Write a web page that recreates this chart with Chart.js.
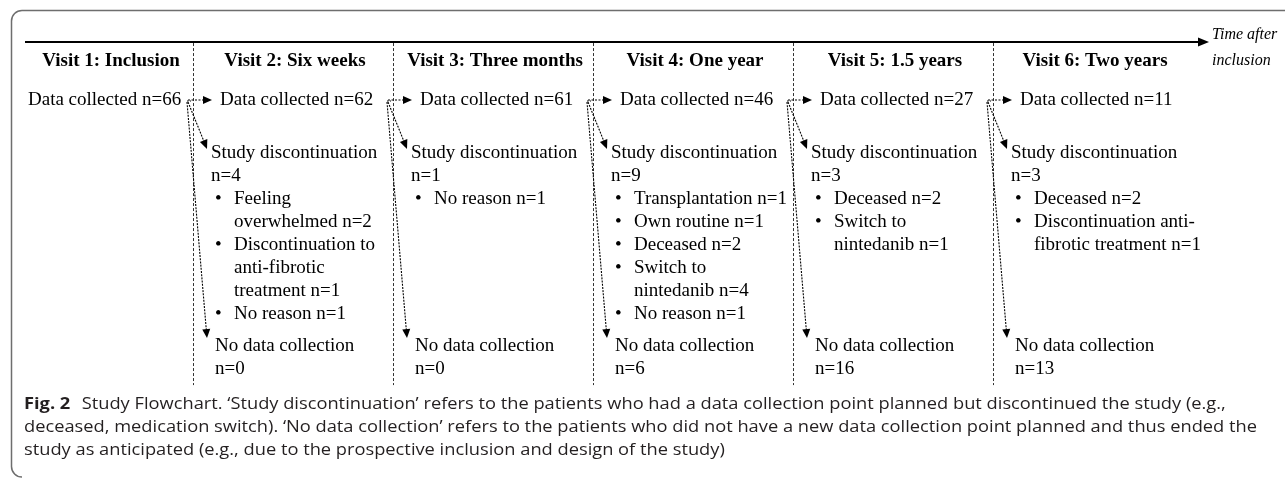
<!DOCTYPE html>
<html><head><meta charset="utf-8">
<script src="https://cdn.jsdelivr.net/npm/chart.js@4/dist/chart.umd.min.js"></script>
<style>html,body{margin:0;padding:0;background:#fff;overflow:hidden}#wrap{position:relative;width:1285px;height:478px}canvas{display:block}</style>
</head><body><div id="wrap"><canvas id="c" width="1285" height="478"></canvas></div>
<script>
// ---- data ----
const visits = ['Visit 1: Inclusion','Visit 2: Six weeks','Visit 3: Three months','Visit 4: One year','Visit 5: 1.5 years','Visit 6: Two years'];
const collected = [66, 62, 61, 46, 27, 11];
const discontinued = [null, 4, 1, 9, 3, 3];
const noCollection = [null, 0, 0, 6, 16, 13];
const reasonLabels = [
  [],
  ['Feeling\noverwhelmed', 'Discontinuation to\nanti-fibrotic\ntreatment', 'No reason'],
  ['No reason'],
  ['Transplantation', 'Own routine', 'Deceased', 'Switch to\nnintedanib', 'No reason'],
  ['Deceased', 'Switch to\nnintedanib'],
  ['Deceased', 'Discontinuation anti-\nfibrotic treatment']
];
const reasonCounts = [[], [2, 1, 1], [1], [1, 1, 2, 4, 1], [2, 1], [2, 1]];
const axisTitle = ['Time after', 'inclusion'];
const captionBold = 'Fig. 2';
const captionLines = [
  'Study Flowchart. \u2018Study discontinuation\u2019 refers to the patients who had a data collection point planned but discontinued the study (e.g.,',
  'deceased, medication switch). \u2018No data collection\u2019 refers to the patients who did not have a new data collection point planned and thus ended the',
  'study as anticipated (e.g., due to the prospective inclusion and design of the study)'
];

// row positions (in line units of the y scale)
const ROW = {axis:-2.52, title1:-2.83, title2:-1.72, head:-1.7, data:0, disc:2.3, no:10.7, sepEnd:12.4, cap:13.26};
const SERIF = '"Liberation Serif","Times New Roman",serif';
const SANS = '"Open Sans","Noto Sans",sans-serif';

function head(ctx, x1, y1, x2, y2, len, half) {
  const a = Math.atan2(y2 - y1, x2 - x1), c = Math.cos(a), s = Math.sin(a);
  ctx.beginPath();
  ctx.moveTo(x2, y2);
  ctx.lineTo(x2 - len * c + half * s, y2 - len * s - half * c);
  ctx.lineTo(x2 - len * c - half * s, y2 - len * s + half * c);
  ctx.closePath();
  ctx.fill();
}
function arrow(ctx, x1, y1, x2, y2, dash) {
  const a = Math.atan2(y2 - y1, x2 - x1);
  ctx.save();
  ctx.setLineDash(dash);
  ctx.lineWidth = 1.1;
  ctx.beginPath();
  ctx.moveTo(x1, y1);
  ctx.lineTo(x2 - 6 * Math.cos(a), y2 - 6 * Math.sin(a));
  ctx.stroke();
  ctx.restore();
  head(ctx, x1, y1, x2, y2, 9, 4);
}

const flowPlugin = {
  id: 'flow',
  afterDatasetsDraw(chart) {
    const ctx = chart.ctx, xs = chart.scales.x, ys = chart.scales.y, area = chart.chartArea;
    const X = v => xs.getPixelForValue(v), Y = v => ys.getPixelForValue(v);
    const bound = i => Math.max(X(i - 0.5), area.left);
    const dataX = i => i === 0 ? area.left + 3 : X(i - 0.5) + 27;
    const discX = i => X(i - 0.5) + 18;
    const noX = i => X(i - 0.5) + 22;
    ctx.save();
    ctx.fillStyle = '#000'; ctx.strokeStyle = '#000';

    // frame
    ctx.save();
    ctx.strokeStyle = '#6e6e6e'; ctx.lineWidth = 1.5;
    ctx.beginPath();
    ctx.moveTo(chart.width + 2, 10.5);
    ctx.lineTo(22, 10.5);
    ctx.arcTo(11.5, 10.5, 11.5, 21, 10.5);
    ctx.lineTo(11.5, 466);
    ctx.arcTo(11.5, 477, 22, 477, 10.5);
    ctx.stroke();
    ctx.restore();

    // time axis
    const ay = Y(ROW.axis);
    ctx.lineWidth = 2;
    ctx.beginPath(); ctx.moveTo(area.left, ay); ctx.lineTo(area.right - 6, ay); ctx.stroke();
    head(ctx, area.left, ay, area.right + 2, ay, 11, 4.5);
    ctx.font = 'italic 16px ' + SERIF; ctx.textBaseline = 'middle'; ctx.textAlign = 'left';
    ctx.fillText(axisTitle[0], area.right + 5, Y(ROW.title1));
    ctx.fillText(axisTitle[1], area.right + 5, Y(ROW.title2));

    // separators
    ctx.save();
    ctx.strokeStyle = '#333'; ctx.lineWidth = 1; ctx.setLineDash([3, 2]);
    for (let i = 0; i < visits.length - 1; i++) {
      const sx = Math.round(X(i + 0.5)) + 0.5;
      ctx.beginPath(); ctx.moveTo(sx, ay + 1); ctx.lineTo(sx, Y(ROW.sepEnd)); ctx.stroke();
    }
    ctx.restore();

    // headings
    ctx.font = 'bold 19px ' + SERIF; ctx.textAlign = 'center';
    visits.forEach((v, i) => {
      const cx = (bound(i) + X(i + 0.5)) / 2 + 2;
      ctx.fillText(v, cx, Y(ROW.head));
    });

    // texts
    ctx.font = '19px ' + SERIF; ctx.textAlign = 'left';
    const dMeta = chart.getDatasetMeta(0);
    collected.forEach((n, i) => {
      const py = dMeta.data[i].y;
      ctx.fillText('Data collected n=' + n, dataX(i), py);
    });
    const sMeta = chart.getDatasetMeta(1);
    discontinued.forEach((n, i) => {
      if (n === null) return;
      const py = sMeta.data[i].y, x = discX(i);
      ctx.fillText('Study discontinuation', x, py);
      ctx.fillText('n=' + n, x, py + (Y(1) - Y(0)));
      let line = 2;
      reasonLabels[i].forEach((lab, k) => {
        const parts = (lab + ' n=' + reasonCounts[i][k]).split('\n');
        ctx.fillText('\u2022', x + 4, Y(ROW.disc + line));
        parts.forEach(p => { ctx.fillText(p, x + 23, Y(ROW.disc + line)); line++; });
      });
    });
    const nMeta = chart.getDatasetMeta(2);
    noCollection.forEach((n, i) => {
      if (n === null) return;
      const py = nMeta.data[i].y, x = noX(i);
      ctx.fillText('No data collection', x, py);
      ctx.fillText('n=' + n, x, py + (Y(1) - Y(0)));
    });

    // flow arrows
    for (let i = 0; i < visits.length - 1; i++) {
      const ox = X(i + 0.5) - 5, oy = Y(ROW.data);
      arrow(ctx, ox, oy, dataX(i + 1) - 8, oy, [2, 1.5]);
      ctx.save(); ctx.setLineDash([1.5,1.5]); ctx.lineWidth=1;
      ctx.beginPath(); ctx.moveTo(ox - 1, oy + 1); ctx.lineTo(ox + 3, oy + 1); ctx.stroke(); ctx.restore();
      arrow(ctx, ox, oy + 2, discX(i + 1) - 4, Y(ROW.disc) - 4, [2, 1.2]);
      arrow(ctx, ox - 1, oy + 2, noX(i + 1) - 8, Y(ROW.no) - 8, [2, 1.2]);
    }

    // caption
    ctx.fillStyle = '#231f20';
    ctx.font = '16px ' + SANS;
    const s = 1233 / ctx.measureText(captionLines[1]).width;
    ctx.save();
    ctx.translate(24, 0); ctx.scale(s, 1);
    ctx.font = 'bold 16px ' + SANS;
    ctx.fillText(captionBold, 0, Y(ROW.cap));
    const bw = ctx.measureText(captionBold).width;
    ctx.font = '16px ' + SANS;
    ctx.fillText(captionLines[0], bw + 10, Y(ROW.cap));
    ctx.fillText(captionLines[1], 0, Y(ROW.cap + 1));
    ctx.fillText(captionLines[2], 0, Y(ROW.cap + 2));
    ctx.restore();
    ctx.restore();
  }
};

new Chart(document.getElementById('c'), {
  type: 'scatter',
  data: {
    labels: visits,
    datasets: [
      {label: 'Data collected', data: collected.map((n, i) => ({x: i, y: ROW.data})), pointRadius: 0},
      {label: 'Study discontinuation', data: discontinued.map((n, i) => ({x: i, y: ROW.disc})), pointRadius: 0},
      {label: 'No data collection', data: noCollection.map((n, i) => ({x: i, y: ROW.no})), pointRadius: 0}
    ]
  },
  options: {
    responsive: false, animation: false, events: [],
    layout: {padding: {left: 25, right: 78, top: 100, bottom: 109}},
    plugins: {legend: {display: false}, tooltip: {enabled: false}},
    scales: {
      x: {type: 'linear', min: -0.34, max: 5.57, display: false},
      y: {type: 'linear', min: 0, max: 11.7, reverse: true, display: false}
    }
  },
  plugins: [flowPlugin]
});
</script>
</body></html>
